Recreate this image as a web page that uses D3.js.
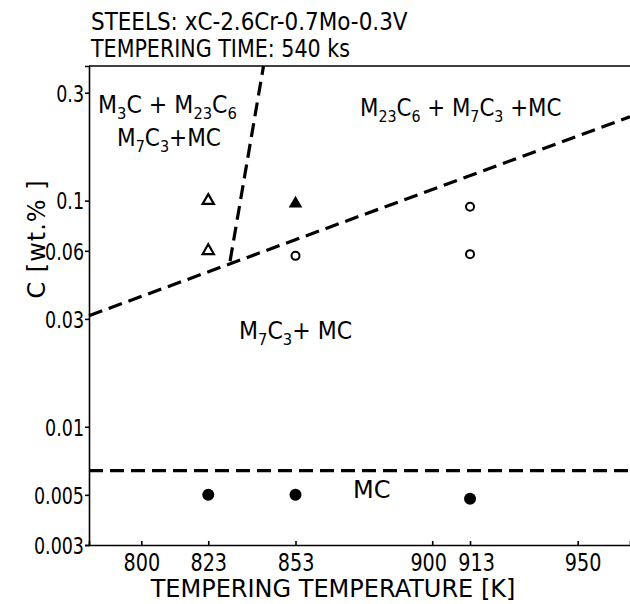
<!DOCTYPE html>
<html>
<head>
<meta charset="utf-8">
<script src="https://cdn.jsdelivr.net/npm/d3@7"></script>
<style>
  body { margin: 0; background: #fff; }
  svg { display: block; }
  text { font-family: 'DejaVu Sans', sans-serif; fill: #000; }
</style>
</head>
<body>
<svg id="chart" width="630" height="604"></svg>
<script>
// tick values and labels
const xTicks = [800, 823, 853, 900, 913, 950]
const yTicks = [0.003, 0.005, 0.01, 0.03, 0.06, 0.1, 0.3]
const yTickLabels = ['0.003', '0.005', '0.01', '0.03', '0.06', '0.1', '0.3']

// measured points: [temperature K, C wt.%]
const openTriangles = [[823, 0.1], [823, 0.06]]
const filledTriangles = [[853, 0.097]]
const openCircles = [[853, 0.057], [913, 0.094], [913, 0.058]]
const filledCircles = [[823, 0.005], [853, 0.005], [913, 0.0048]]

// phase boundaries (dashed)
const boundaryMC = [[782, 0.0064], [968, 0.0064]]
const boundaryM23C6 = [[782, 0.031], [968, 0.235]]
const boundaryM3C = [[830.5, 0.054], [842, 0.394]]

const svg = d3.select('#chart')

const x = d3.scaleLinear().domain([782, 968]).range([89, 630])
const y = d3.scaleLog().domain([0.003, 0.394]).range([545, 66])

// squeeze glyphs horizontally, the lettering in the original is narrow
function condense(sel, k) {
  sel.each(function () {
    const w = this.getComputedTextLength()
    d3.select(this).attr('textLength', w * k).attr('lengthAdjust', 'spacingAndGlyphs')
  })
}

// axes box (left, bottom, top - right side is cut off in the original)
svg.append('g')
  .attr('transform', 'translate(89,0)')
  .call(d3.axisLeft(y).tickValues(yTicks).tickFormat((d, i) => yTickLabels[i]).tickSize(4).tickPadding(1))
  .call(g => g.selectAll('text').style('font-size', '23px').attr('dy', '0.36em').call(condense, 0.76))
  .call(g => g.selectAll('line, path').attr('stroke', '#000').attr('stroke-width', 1.6))

svg.append('g')
  .attr('transform', 'translate(0,545)')
  .call(d3.axisBottom(x).tickValues(xTicks).tickFormat(d3.format('d')).tickSize(-4).tickPadding(10))
  .call(g => g.selectAll('text').style('font-size', '24px').attr('dy', '0.68em')
    .attr('dx', d => d === 900 ? -4 : d === 913 ? 6 : d === 950 ? 5 : 0)
    .call(condense, 0.8))
  .call(g => g.selectAll('line, path').attr('stroke', '#000').attr('stroke-width', 1.6))

svg.append('line')
  .attr('x1', x(782)).attr('x2', x(968))
  .attr('y1', y(0.394)).attr('y2', y(0.394))
  .attr('stroke', '#000').attr('stroke-width', 1.6)

// dashed boundaries
const line = d3.line().x(d => x(d[0])).y(d => y(d[1]))
;[boundaryMC, boundaryM23C6, boundaryM3C].forEach(b => {
  svg.append('path')
    .attr('d', line(b))
    .attr('fill', 'none')
    .attr('stroke', '#000')
    .attr('stroke-width', 3.2)
    .attr('stroke-dasharray', '14,7')
})

// markers
svg.selectAll('.otri').data(openTriangles).enter()
  .append('path').attr('class', 'otri')
  .attr('d', d3.symbol().type(d3.symbolTriangle).size(55))
  .attr('transform', d => 'translate(' + x(d[0]) + ',' + y(d[1]) + ')')
  .attr('fill', '#fff').attr('stroke', '#000').attr('stroke-width', 2.2)

svg.selectAll('.ftri').data(filledTriangles).enter()
  .append('path').attr('class', 'ftri')
  .attr('d', d3.symbol().type(d3.symbolTriangle).size(80))
  .attr('transform', d => 'translate(' + x(d[0]) + ',' + y(d[1]) + ')')
  .attr('fill', '#000')

svg.selectAll('.ocirc').data(openCircles).enter()
  .append('circle').attr('class', 'ocirc')
  .attr('cx', d => x(d[0])).attr('cy', d => y(d[1])).attr('r', 4)
  .attr('fill', '#fff').attr('stroke', '#000').attr('stroke-width', 2)

svg.selectAll('.fcirc').data(filledCircles).enter()
  .append('circle').attr('class', 'fcirc')
  .attr('cx', d => x(d[0])).attr('cy', d => y(d[1])).attr('r', 6)
  .attr('fill', '#000')

// text with subscripts, parts are [string, isSubscript], k squeezes it sideways
function richText(px, py, parts, k) {
  const t = svg.append('text')
    .attr('transform', 'translate(' + px + ',' + py + ') scale(' + k + ',1)')
    .style('font-size', '24px')
  let sub = false
  parts.forEach(([s, isSub]) => {
    const ts = t.append('tspan').text(s)
    if (isSub) ts.style('font-size', '16px')
    if (isSub && !sub) ts.attr('dy', 6)
    if (!isSub && sub) ts.attr('dy', -6)
    sub = isSub
  })
  return t
}

richText(98, 113, [['M', 0], ['3', 1], ['C + M', 0], ['23', 1], ['C', 0], ['6', 1]], 0.92)
richText(117, 146, [['M', 0], ['7', 1], ['C', 0], ['3', 1], ['+MC', 0]], 0.9)
richText(360, 116, [['M', 0], ['23', 1], ['C', 0], ['6', 1], [' + M', 0], ['7', 1], ['C', 0], ['3', 1], [' +MC', 0]], 0.89)
richText(239, 339, [['M', 0], ['7', 1], ['C', 0], ['3', 1], ['+ MC', 0]], 0.92)
richText(353, 498, [['MC', 0]], 1)

// titles
svg.append('text').attr('x', 91).attr('y', 30).style('font-size', '25px')
  .text('STEELS: xC-2.6Cr-0.7Mo-0.3V')
  .call(condense, 0.86)
svg.append('text').attr('x', 91).attr('y', 57).style('font-size', '25px')
  .text('TEMPERING TIME: 540 ks')
  .call(condense, 0.825)

// axis titles
svg.append('text').attr('x', 333).attr('y', 597).attr('text-anchor', 'middle')
  .style('font-size', '24px')
  .text('TEMPERING TEMPERATURE [K]')
svg.append('text')
  .attr('transform', 'translate(45,239) rotate(-90)')
  .attr('text-anchor', 'middle').style('font-size', '24px').style('letter-spacing', '1px')
  .text('C [wt.% ]')
</script>
</body>
</html>
